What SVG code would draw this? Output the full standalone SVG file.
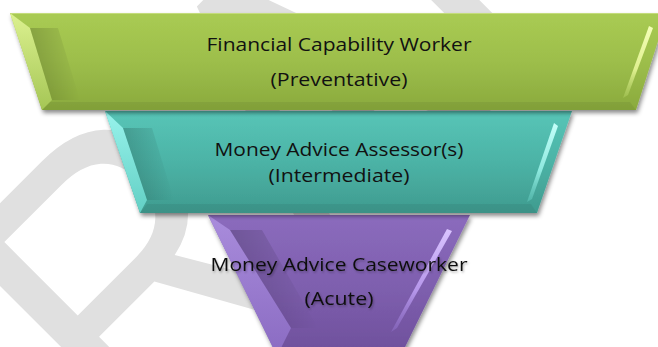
<svg xmlns="http://www.w3.org/2000/svg" width="658" height="347" viewBox="0 0 658 347">
<style>
.lbl{font-family:"Open Sans","Liberation Sans",Arial,sans-serif;font-size:18.5px;fill:#111;text-anchor:middle}
.wm{font-family:"Liberation Sans",Arial,sans-serif;font-size:365px;fill:#e0e0e0}
</style>
<defs>
<linearGradient id="gG" x1="0" y1="0" x2="0" y2="1"><stop offset="0" stop-color="#a9cb53"/><stop offset="0.5" stop-color="#9dbe4b"/><stop offset="1" stop-color="#8aaa3d"/></linearGradient>
<linearGradient id="gT" x1="0" y1="0" x2="0" y2="1"><stop offset="0" stop-color="#57c5b7"/><stop offset="0.5" stop-color="#4cb3a6"/><stop offset="1" stop-color="#3f9b8f"/></linearGradient>
<linearGradient id="gP" x1="0" y1="0" x2="0" y2="1"><stop offset="0" stop-color="#8b6bbd"/><stop offset="0.5" stop-color="#7e5fae"/><stop offset="1" stop-color="#6d4e9a"/></linearGradient>
<linearGradient id="fG" x1="0" y1="0" x2="0" y2="1"><stop offset="0" stop-color="#dcf190"/><stop offset="1" stop-color="#a5c655"/></linearGradient>
<linearGradient id="fT" x1="0" y1="0" x2="0" y2="1"><stop offset="0" stop-color="#98f3ec"/><stop offset="1" stop-color="#62cfc4"/></linearGradient>
<linearGradient id="fP" x1="0" y1="0" x2="0" y2="1"><stop offset="0" stop-color="#a98cdc"/><stop offset="1" stop-color="#8a6bc2"/></linearGradient>
<linearGradient id="sG" x1="0" y1="0" x2="0" y2="1"><stop offset="0" stop-color="#f4ffb8"/><stop offset="0.6" stop-color="#dff08f"/><stop offset="1" stop-color="#a9c85a" stop-opacity="0.6"/></linearGradient>
<linearGradient id="sT" x1="0" y1="0" x2="0" y2="1"><stop offset="0" stop-color="#c4fff9"/><stop offset="0.6" stop-color="#8ee9df"/><stop offset="1" stop-color="#5cc2b6" stop-opacity="0.6"/></linearGradient>
<linearGradient id="sP" x1="0" y1="0" x2="0" y2="1"><stop offset="0" stop-color="#dac4ff"/><stop offset="0.6" stop-color="#b596ea"/><stop offset="1" stop-color="#8c6cc4" stop-opacity="0.6"/></linearGradient>
<linearGradient id="dk" x1="0" y1="0" x2="1" y2="0"><stop offset="0" stop-color="#000" stop-opacity="0.18"/><stop offset="1" stop-color="#000" stop-opacity="0"/></linearGradient>
<filter id="sh" x="-10%" y="-10%" width="120%" height="130%"><feDropShadow dx="1.5" dy="3" stdDeviation="2.2" flood-color="#000" flood-opacity="0.45"/></filter>
<filter id="tsh" x="-10%" y="-30%" width="120%" height="160%"><feDropShadow dx="1" dy="1.5" stdDeviation="1.2" flood-color="#000" flood-opacity="0.3"/></filter>
</defs>
<rect width="658" height="347" fill="#fff"/>
<g id="watermark">
<text class="wm" transform="translate(-50,651) rotate(-45) scale(1,1.12)" x="0" y="0">DRAFT</text>
</g>
<g id="connectors"></g>
<g id="node-acute">
<polygon points="208,215 470,215 398.7,360 279.3,360" fill="url(#gP)" filter="url(#sh)"/>
<polygon points="208,215 230,230 291,328 277,356" fill="url(#fP)"/>
<polygon points="230,230 262,230 318,328 291,328" fill="url(#dk)"/>
<polygon points="447,229 452,231 397,328 391,332" fill="url(#sP)"/>
<text class="lbl" filter="url(#tsh)" x="339" y="270.5" textLength="257" lengthAdjust="spacingAndGlyphs">Money Advice Caseworker</text>
<text class="lbl" filter="url(#tsh)" x="339" y="305" textLength="69" lengthAdjust="spacingAndGlyphs">(Acute)</text>
</g>
<g id="node-intermediate">
<polygon points="105,111 572,111 537,213 140,213" fill="url(#gT)" filter="url(#sh)"/>
<polygon points="105,111 123,128 147,200 140,213" fill="url(#fT)"/>
<polygon points="123,128 152,128 174,200 147,200" fill="url(#dk)"/>
<polygon points="537,213 140,213 147,204 531,204" fill="#000" fill-opacity="0.06"/>
<polygon points="554,123 558,126 532,199 527,202" fill="url(#sT)"/>
<text class="lbl" x="339" y="155.5" textLength="249" lengthAdjust="spacingAndGlyphs">Money Advice Assessor(s)</text>
<text class="lbl" x="339" y="182" textLength="141" lengthAdjust="spacingAndGlyphs">(Intermediate)</text>
</g>
<g id="node-preventative">
<polygon points="10,13 667,13 636,110 42,110" fill="url(#gG)" filter="url(#sh)"/>
<polygon points="10,13 30,28 52,100 42,110" fill="url(#fG)"/>
<polygon points="30,28 58,28 80,100 52,100" fill="url(#dk)"/>
<polygon points="636,110 42,110 50,102 630,102" fill="#000" fill-opacity="0.06"/>
<line x1="10" y1="13.5" x2="667" y2="13.5" stroke="#c4dc7c" stroke-width="1"/>
<polygon points="649,26 653,28 628,95 623,98" fill="url(#sG)"/>
<text class="lbl" x="339" y="50.5" textLength="265" lengthAdjust="spacingAndGlyphs">Financial Capability Worker</text>
<text class="lbl" x="339" y="86" textLength="137" lengthAdjust="spacingAndGlyphs">(Preventative)</text>
</g>
</svg>
